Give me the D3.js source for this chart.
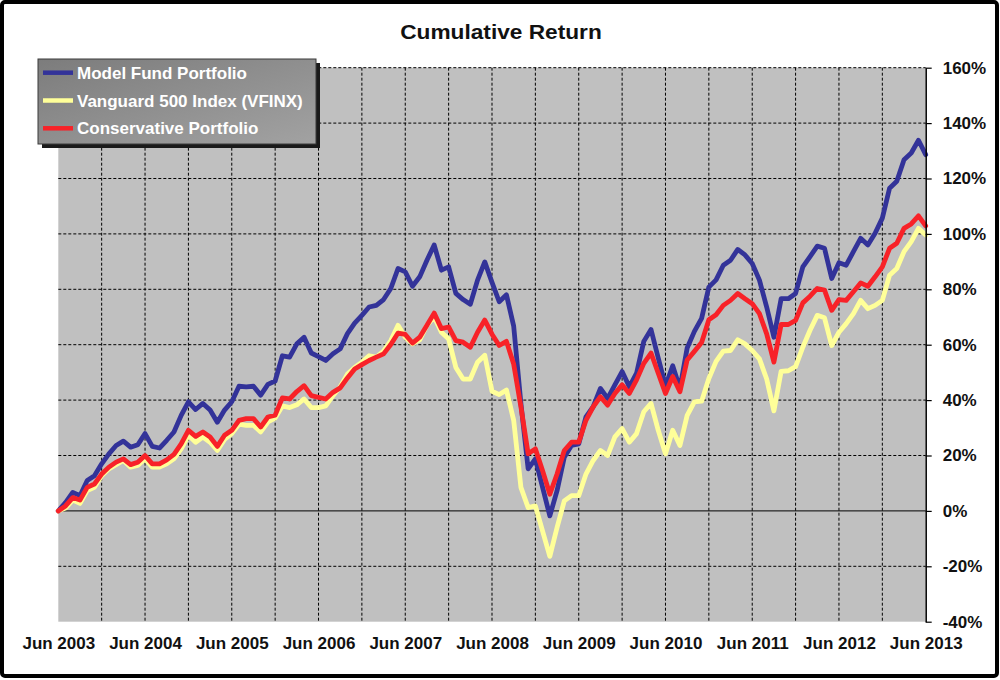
<!DOCTYPE html>
<html>
<head>
<meta charset="utf-8">
<script src="https://cdn.jsdelivr.net/npm/d3@7"></script>
<style>
  body { margin: 0; background: #fff; }
  svg text { font-family: "Liberation Sans", Arial, sans-serif; font-weight: bold; }
</style>
</head>
<body>
<div id="chart"></div>
<script>
// Tick labels on the category axis (one every 12 months)
const xLabels = ["Jun 2003", "Jun 2004", "Jun 2005", "Jun 2006", "Jun 2007", "Jun 2008",
                 "Jun 2009", "Jun 2010", "Jun 2011", "Jun 2012", "Jun 2013"];

// Y axis ticks (percent)
const yTicks = [-40, -20, 0, 20, 40, 60, 80, 100, 120, 140, 160];

// Monthly cumulative return (%), Jun 2003 .. Jun 2013 (121 points)
const modelFund = [
  0, 3, 6.7, 5.5, 11, 12.7, 17, 20.6, 23.6, 25.2, 23, 23.9,
  27.9, 23.3, 22.7, 25.5, 28.5, 34.5, 39.4, 36.6, 38.8, 36.4, 32, 36.4,
  39.4, 45, 44.8, 45, 41.8, 45.7, 46.9, 56, 55.5, 60.3, 62.7, 57,
  55.7, 54.3, 56.7, 58.5, 64, 67.8, 70.6, 73.6, 74.2, 76.3, 80.3, 87.5,
  86.3, 81.1, 84.5, 90.5, 96, 86.9, 88.1, 78.5, 76.3, 74.6, 83.3, 89.9,
  82.5, 75.5, 78, 66.7, 38.8, 15.2, 18.8, 8.5, -1.8, 7.3, 19.4, 23.6,
  24.2, 33.9, 37.6, 44.2, 40.6, 45.5, 50.3, 44.8, 49.7, 61.2, 65.5, 55.2,
  45.1, 52.4, 44.2, 58.8, 64.8, 69.5, 80.8, 83.4, 88.7, 90.5, 94.4, 92.4,
  89.3, 83.3, 73.6, 62.7, 76.6, 76.6, 78.5, 88.1, 91.8, 95.6, 94.8, 83.9,
  89.6, 88.7, 93.6, 98.4, 96, 100.2, 105.7, 116.5, 119, 126.8, 129.2, 133.8,
  128.6
];

const vanguard500 = [
  0, 1, 3.9, 2.7, 7.3, 8.5, 12.7, 15.2, 16.7, 18.2, 15.8, 16.4,
  18.8, 15.8, 15.8, 17, 18.8, 22.4, 27.3, 24.8, 26.7, 24.8, 21.8, 25.8,
  27.9, 31.3, 30.9, 30.9, 28.5, 32.1, 33.5, 37.9, 37.3, 38.3, 40.4, 37.3,
  37.3, 37.9, 41.6, 44.8, 49.4, 51.8, 53.7, 56, 55.5, 57.7, 61.5, 67,
  62.7, 60.3, 61.7, 67, 70, 64.5, 62.1, 51.8, 47.6, 47.6, 53.7, 56.2,
  43.2, 42, 43.6, 32.7, 8.5, 1.2, 1.8, -7.3, -16.4, -6, 3.6, 5.5,
  5.5, 13.3, 18.2, 21.8, 20, 26.7, 29.7, 24.8, 27.9, 35.8, 38.8, 29.1,
  20.6, 29.1, 23.6, 34.5, 39.4, 39.6, 47.8, 54, 57.7, 57.9, 61.8, 60.3,
  57.9, 54.9, 47.6, 36.1, 50.4, 50.6, 52.1, 59.1, 65.2, 70.6, 69.7, 59.7,
  64.5, 67.6, 71.2, 76, 73, 74.2, 76, 85.1, 87.5, 93.6, 97.2, 102,
  99.6
];

const conservative = [
  0, 1.8, 4.8, 3.9, 8.5, 9.7, 13.3, 15.8, 17.6, 18.8, 16.7, 17.6,
  20, 17, 17, 18.4, 20.4, 24.2, 29.1, 26.9, 28.5, 26.7, 23.3, 27.3,
  29.1, 32.7, 33.3, 33.3, 30.3, 33.9, 34.6, 40.8, 40.4, 43.1, 45.2, 41.6,
  41, 40.4, 42.8, 44.4, 48, 51.2, 52.8, 54.3, 55.5, 56.7, 60.1, 64.2,
  63.7, 60.6, 62.7, 67, 71.4, 65.8, 66.4, 61.5, 60.9, 59.1, 64.5, 68.9,
  63.8, 59.7, 61.2, 53, 37.6, 20.6, 22.4, 14.5, 6, 13.3, 21.8, 24.8,
  24.8, 32.7, 37.6, 41.2, 38.2, 42.4, 45.5, 42.4, 47.3, 53.3, 57, 49.7,
  42.4, 48.5, 43, 54.5, 57.6, 60.8, 69, 70.8, 74.2, 76, 78.5, 76.6,
  74.8, 71.2, 63.9, 53.7, 67.3, 67.3, 68.8, 75.1, 77.5, 80.3, 79.7, 72.4,
  76.3, 76, 79.1, 82.3, 81.1, 84.5, 88.1, 94.8, 96.6, 102, 103.6, 106.5,
  102.9
];

const seriesNames = ["Model Fund Portfolio", "Vanguard 500 Index (VFINX)", "Conservative Portfolio"];
const seriesColors = ["#333399", "#ffff99", "#f82228"];
const seriesData = [modelFund, vanguard500, conservative];

// Layout
const W = 1000, H = 680;
const plot = { left: 58.3, right: 925.7, top: 67.7, bottom: 621.7 };

const svg = d3.select("#chart")
  .append("svg")
  .attr("width", W)
  .attr("height", H);

// Outer frame
svg.append("rect")
  .attr("x", 2).attr("y", 2)
  .attr("width", W - 5).attr("height", H - 6)
  .attr("rx", 3)
  .attr("fill", "#fff")
  .attr("stroke", "#000")
  .attr("stroke-width", 4);

// Title (slightly wider than tall, as in the source image)
svg.append("text")
  .attr("transform", "translate(501,39) scale(1.08,1)")
  .attr("text-anchor", "middle")
  .style("font-size", "21px")
  .attr("fill", "#111")
  .text("Cumulative Return");

// Scales
const xScale = d3.scaleLinear()
  .domain([0, modelFund.length - 1])
  .range([plot.left, plot.right]);

const yScale = d3.scaleLinear()
  .domain([-40, 160])
  .range([plot.bottom, plot.top]);

// Plot area
svg.append("rect")
  .attr("x", plot.left).attr("y", plot.top)
  .attr("width", plot.right - plot.left)
  .attr("height", plot.bottom - plot.top)
  .attr("fill", "#c0c0c0");

// Vertical gridlines every 6 months
const vGrid = d3.range(6, modelFund.length - 1, 6);
svg.append("g")
  .selectAll("line")
  .data(vGrid)
  .enter().append("line")
  .attr("x1", d => xScale(d)).attr("x2", d => xScale(d))
  .attr("y1", plot.top).attr("y2", plot.bottom)
  .attr("stroke", "#000")
  .attr("stroke-width", 1)
  .attr("stroke-dasharray", "3,2");

// Horizontal gridlines (0% is solid)
svg.append("g")
  .selectAll("line")
  .data(yTicks.filter(d => d !== -40))
  .enter().append("line")
  .attr("x1", plot.left).attr("x2", plot.right)
  .attr("y1", d => yScale(d)).attr("y2", d => yScale(d))
  .attr("stroke", "#000")
  .attr("stroke-width", 1)
  .attr("stroke-dasharray", d => d === 0 ? null : "3,2");

// Lines
const line = d3.line()
  .x((d, i) => xScale(i))
  .y(d => yScale(d));

svg.append("g")
  .selectAll("path")
  .data(seriesData)
  .enter().append("path")
  .attr("fill", "none")
  .attr("stroke", (d, i) => seriesColors[i])
  .attr("stroke-width", 4.8)
  .attr("stroke-linejoin", "round")
  .attr("stroke-linecap", "round")
  .attr("d", line);

// Right Y axis
const yAxis = svg.append("g")
  .attr("transform", `translate(${plot.right},0)`)
  .call(d3.axisRight(yScale)
    .tickValues(yTicks)
    .tickSize(6)
    .tickSizeOuter(0)
    .tickPadding(11)
    .tickFormat(d => d + "%"));
yAxis.select(".domain").attr("stroke", "#000").attr("stroke-width", 1.5);
yAxis.selectAll(".tick line").attr("stroke", "#000").attr("stroke-width", 1.2);
yAxis.selectAll("text")
  .style("font-size", "17px")
  .attr("fill", "#111")
  .attr("font-family", null);

// Bottom category labels
const xAxis = svg.append("g")
  .attr("transform", `translate(0,${plot.bottom})`)
  .call(d3.axisBottom(xScale)
    .tickValues(d3.range(0, modelFund.length, 12))
    .tickSize(0)
    .tickFormat((d, i) => xLabels[i]));
xAxis.select(".domain").remove();
xAxis.selectAll("text")
  .attr("y", 27)
  .attr("dy", 0)
  .style("font-size", "17px")
  .attr("fill", "#111")
  .attr("font-family", null);

// Legend
const defs = svg.append("defs");
const grad = defs.append("linearGradient")
  .attr("id", "legendGrad")
  .attr("x1", "0%").attr("y1", "0%")
  .attr("x2", "100%").attr("y2", "100%");
grad.append("stop").attr("offset", "0%").attr("stop-color", "#7c7c7c");
grad.append("stop").attr("offset", "100%").attr("stop-color", "#a2a2a2");

const legend = svg.append("g").attr("transform", "translate(38,59)");
legend.append("rect")
  .attr("x", 4).attr("y", 4)
  .attr("width", 278).attr("height", 85)
  .attr("fill", "#1a1a1a");
legend.append("rect")
  .attr("x", 0).attr("y", 0)
  .attr("width", 278).attr("height", 85)
  .attr("fill", "url(#legendGrad)")
  .attr("stroke", "#3a3a3a")
  .attr("stroke-width", 1);

const legendItems = legend.selectAll(".item")
  .data(seriesNames)
  .enter().append("g")
  .attr("class", "item")
  .attr("transform", (d, i) => `translate(0,${13.7 + i * 27.8})`);
legendItems.append("line")
  .attr("x1", 5).attr("x2", 35)
  .attr("y1", 0).attr("y2", 0)
  .attr("stroke", (d, i) => seriesColors[i])
  .attr("stroke-width", 4.5);
legendItems.append("text")
  .attr("x", 39)
  .attr("y", 6)
  .style("font-size", "17px")
  .attr("fill", "#fff")
  .text(d => d);
</script>
</body>
</html>
